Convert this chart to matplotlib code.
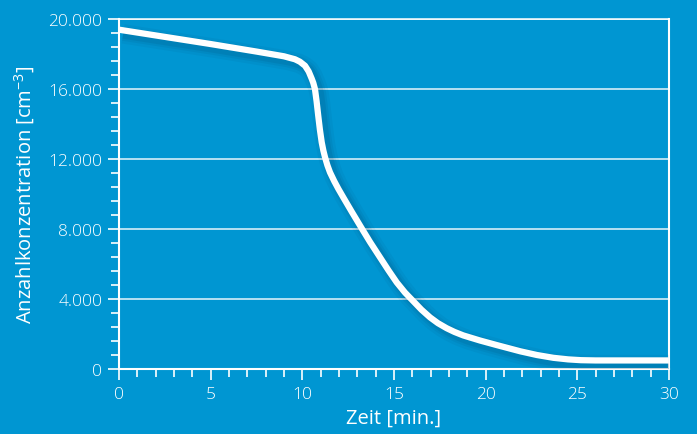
import numpy as np
import matplotlib.pyplot as plt
import matplotlib.patheffects as pe
from matplotlib.ticker import MultipleLocator, FuncFormatter

zeit = [0, 2.5, 5, 7.5, 9.0, 9.6, 9.87, 10.15, 10.35, 10.51, 10.6, 10.69, 10.78,
        10.87, 10.96, 11.06, 11.15, 11.24, 11.37, 11.51, 11.74, 11.97, 12.24,
        12.7, 13.24, 13.7, 14.24, 14.7, 15.15, 15.6, 16.06, 16.5, 16.97, 17.4,
        17.88, 18.3, 18.78, 19.69, 20.6, 21.9, 22.8, 23.7, 24.5, 25.2, 26.0,
        27, 28, 29, 30]
anzahl = [19390, 18980, 18570, 18140, 17870, 17700, 17560, 17330, 17000, 16600,
          16350, 16000, 15300, 14470, 13680, 12950, 12480, 12100, 11640, 11240,
          10740, 10290, 9800, 8980, 8040, 7250, 6380, 5640, 4950, 4370, 3870,
          3390, 2950, 2620, 2330, 2120, 1920, 1630, 1370, 1010, 800, 640, 550,
          505, 490, 490, 490, 490, 490]

bg = '#0096d2'
plt.rcParams['font.family'] = ['Open Sans', 'DejaVu Sans']
plt.rcParams['font.weight'] = 'light'
plt.rcParams['mathtext.default'] = 'regular'

fig = plt.figure(figsize=(6.97, 4.35), dpi=100, facecolor=bg)
ax = fig.add_axes([0.1707, 0.1494, 0.789, 0.8046], facecolor=bg)

shadow = [pe.SimpleLineShadow(offset=(3, -3), shadow_color='#003a5c', alpha=a, linewidth=w)
          for a, w in [(0.06, 14), (0.08, 10), (0.10, 7)]]
ax.plot(zeit, anzahl, color='white', lw=4.5, solid_capstyle='butt',
        solid_joinstyle='round', path_effects=shadow + [pe.Normal()], zorder=3)

ax.set_xlim(0, 30)
ax.set_ylim(0, 20000)
ax.xaxis.set_major_locator(MultipleLocator(5))
ax.xaxis.set_minor_locator(MultipleLocator(1))
ax.yaxis.set_major_locator(MultipleLocator(4000))
ax.yaxis.set_minor_locator(MultipleLocator(800))
ax.yaxis.set_major_formatter(FuncFormatter(lambda v, p: f'{int(v):,}'.replace(',', '.')))

ax.grid(axis='y', color='white', lw=1.1, alpha=0.9)
for s in ax.spines.values():
    s.set_color('white')
    s.set_linewidth(1.5)
ax.spines['top'].set_linewidth(1.1)

ax.tick_params(which='major', length=8, width=1.2, color='white', labelcolor='white',
               labelsize=12.5, pad=4)
ax.tick_params(which='minor', length=6, width=1.2, color='white')

ax.set_xlabel('Zeit [min.]', color='white', fontsize=14.5, labelpad=4)
ax.set_ylabel('Anzahlkonzentration [cm$^{-3}$]', color='white', fontsize=14.5, labelpad=8)

fig.savefig('out.png', dpi=100, facecolor=bg)
